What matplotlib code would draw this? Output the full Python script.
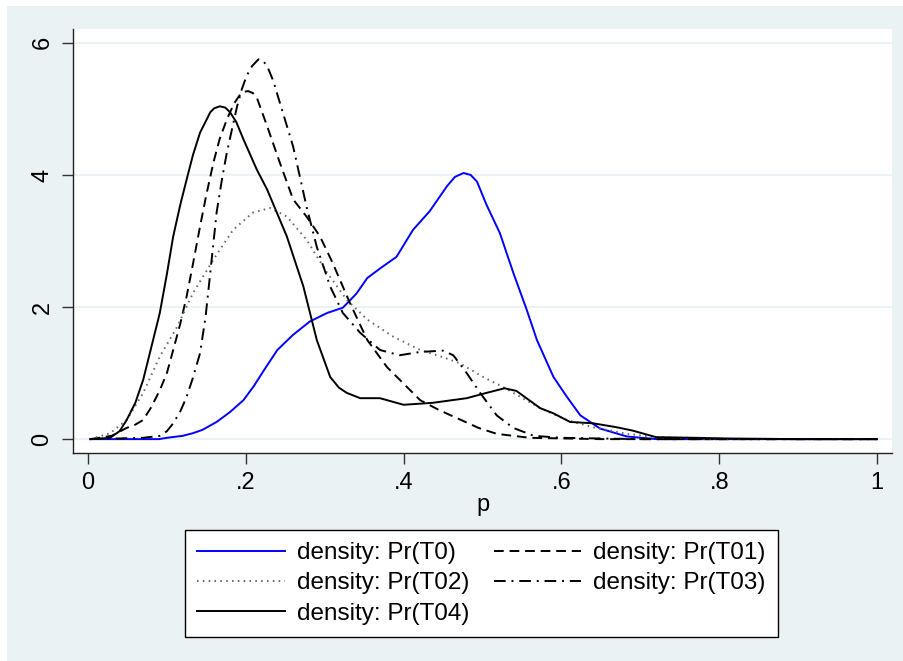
import matplotlib
matplotlib.use('Agg')
import matplotlib.pyplot as plt
from matplotlib.patches import Rectangle

plt.rcParams['font.family'] = ['Liberation Sans', 'DejaVu Sans']

# density estimates (p, density)
t0_x = [0.003, 0.09, 0.1, 0.12, 0.133, 0.145, 0.163, 0.18, 0.197, 0.21, 0.225, 0.24, 0.26,
        0.281, 0.303, 0.323, 0.34, 0.354, 0.372, 0.391, 0.412, 0.433, 0.455, 0.465, 0.476,
        0.485, 0.493, 0.505, 0.522, 0.539, 0.556, 0.569, 0.59, 0.607, 0.624, 0.649, 0.683,
        0.721, 0.8, 0.9, 1.0]
t0_y = [0.0, 0.0, 0.02, 0.05, 0.09, 0.14, 0.26, 0.41, 0.59, 0.8, 1.08, 1.35, 1.58,
        1.78, 1.91, 1.99, 2.2, 2.44, 2.6, 2.76, 3.17, 3.45, 3.83, 3.97, 4.03,
        4.0, 3.9, 3.55, 3.12, 2.52, 1.96, 1.5, 0.94, 0.64, 0.36, 0.16, 0.04,
        0.0, 0.0, 0.0, 0.0]

t01_x = [0.003, 0.03, 0.049, 0.06, 0.07, 0.08, 0.091, 0.1, 0.108, 0.117, 0.125, 0.133,
         0.142, 0.15, 0.159, 0.167, 0.176, 0.185, 0.193, 0.198, 0.203, 0.209, 0.214,
         0.227, 0.243, 0.26, 0.277, 0.294, 0.31, 0.332, 0.354, 0.379, 0.395, 0.421, 0.445,
         0.471, 0.495, 0.518, 0.56, 0.65, 0.8, 1.0]
t01_y = [0.0, 0.05, 0.17, 0.22, 0.29, 0.48, 0.74, 1.0, 1.35, 1.75, 2.16, 2.65,
         3.22, 3.7, 4.19, 4.55, 4.84, 5.08, 5.22, 5.26, 5.27, 5.24, 5.17,
         4.74, 4.19, 3.63, 3.37, 3.07, 2.67, 2.06, 1.5, 1.09, 0.9, 0.59, 0.44,
         0.3, 0.17, 0.08, 0.02, 0.0, 0.0, 0.0]

t02_x = [0.003, 0.028, 0.049, 0.07, 0.091, 0.113, 0.133, 0.159, 0.184, 0.209, 0.231, 0.252,
         0.277, 0.303, 0.328, 0.354, 0.387, 0.421, 0.45, 0.471, 0.501, 0.526, 0.548, 0.573,
         0.607, 0.64, 0.683, 0.72, 0.8, 1.0]
t02_y = [0.0, 0.09, 0.29, 0.7, 1.25, 1.7, 2.21, 2.72, 3.17, 3.43, 3.5, 3.37,
         3.02, 2.52, 2.11, 1.81, 1.55, 1.35, 1.24, 1.15, 0.94, 0.79, 0.64, 0.47,
         0.29, 0.18, 0.08, 0.03, 0.0, 0.0]

t03_x = [0.003, 0.07, 0.091, 0.1, 0.108, 0.117, 0.125, 0.133, 0.142, 0.149, 0.155, 0.163,
         0.17, 0.176, 0.183, 0.189, 0.195, 0.201, 0.208, 0.216, 0.221, 0.227, 0.235, 0.243,
         0.26, 0.277, 0.29, 0.307, 0.323, 0.345, 0.37, 0.395, 0.421, 0.45, 0.463, 0.48,
         0.497, 0.518, 0.539, 0.565, 0.6, 0.7, 1.0]
t03_y = [0.0, 0.02, 0.05, 0.12, 0.24, 0.42, 0.64, 0.93, 1.3, 1.85, 2.52, 3.43,
         3.95, 4.34, 4.72, 5.04, 5.3, 5.5, 5.65, 5.75, 5.74, 5.65, 5.42, 5.1,
         4.43, 3.52, 2.91, 2.31, 1.91, 1.61, 1.35, 1.27, 1.32, 1.34, 1.27, 1.0,
         0.7, 0.36, 0.17, 0.05, 0.02, 0.0, 0.0]

t04_x = [0.003, 0.028, 0.04, 0.049, 0.06, 0.07, 0.08, 0.091, 0.1, 0.108, 0.117, 0.125,
         0.133, 0.142, 0.15, 0.155, 0.16, 0.167, 0.174, 0.18, 0.188, 0.197, 0.214, 0.227,
         0.252, 0.273, 0.29, 0.307, 0.318, 0.328, 0.345, 0.37, 0.4, 0.437, 0.48, 0.505,
         0.528, 0.543, 0.573, 0.59, 0.611, 0.64, 0.67, 0.69, 0.72, 0.77, 0.81, 0.9, 1.0]
t04_y = [0.0, 0.02, 0.12, 0.29, 0.55, 0.9, 1.38, 1.91, 2.5, 3.07, 3.55, 3.93,
         4.3, 4.64, 4.83, 4.95, 5.01, 5.04, 5.02, 4.95, 4.8, 4.54, 4.08, 3.78,
         3.07, 2.31, 1.5, 0.94, 0.78, 0.7, 0.62, 0.62, 0.52, 0.55, 0.62, 0.7,
         0.77, 0.73, 0.47, 0.39, 0.26, 0.24, 0.18, 0.13, 0.03, 0.02, 0.01, 0.0, 0.0]

labels = ['density: Pr(T0)', 'density: Pr(T01)', 'density: Pr(T02)',
          'density: Pr(T03)', 'density: Pr(T04)']
x_ticks = [0, 0.2, 0.4, 0.6, 0.8, 1.0]
x_ticklabels = ['0', '.2', '.4', '.6', '.8', '1']
y_ticks = [0, 2, 4, 6]

bg = '#EAF2F3'

fig = plt.figure(figsize=(9.04, 6.61), dpi=100, facecolor='white')
fig.patches.append(Rectangle((7 / 904, 0), 1, 655 / 661, transform=fig.transFigure,
                             facecolor=bg, edgecolor='none', zorder=-10))
ax = fig.add_axes([73 / 904, 208 / 661, 819 / 904, 424 / 661])
ax.set_facecolor('white')

lw = 1.4
style = dict(lw=lw, solid_joinstyle='round', dash_joinstyle='round')
l0, = ax.plot(t0_x, t0_y, color='#0000FF', **style)
l1, = ax.plot(t01_x, t01_y, color='black', ls=(0, (5, 3)), **style)
l2, = ax.plot(t02_x, t02_y, color='#666666', ls=(0, (0.8, 2.2)), **style)
l3, = ax.plot(t03_x, t03_y, color='black', ls=(0, (6, 3, 1, 3)), **style)
l4, = ax.plot(t04_x, t04_y, color='black', **style)

ax.set_xlim(-0.019, 1.019)
ax.set_ylim(-0.21, 6.21)
ax.set_xticks(x_ticks)
ax.set_xticklabels(x_ticklabels)
ax.set_yticks(y_ticks)
ax.set_yticklabels([str(v) for v in y_ticks], rotation=90, va='center')
ax.tick_params(axis='both', labelsize=17, length=8, width=1, direction='out',
               color='#333333', pad=6)
for g in y_ticks:
    ax.axhline(g, color=bg, lw=1.5, zorder=0)
for s in ['top', 'right']:
    ax.spines[s].set_visible(False)
for s in ['left', 'bottom']:
    ax.spines[s].set_color('#222222')
    ax.spines[s].set_linewidth(1)
ax.set_xlabel('p', fontsize=17, labelpad=0)

leg = fig.legend([l0, l2, l4, l1, l3],
                 [labels[0], labels[2], labels[4], labels[1], labels[3]],
                 ncol=2, loc='upper center', bbox_to_anchor=(481.5 / 904, 131 / 661),
                 fontsize=17.5, frameon=True, fancybox=False, framealpha=1,
                 handlelength=3.6, columnspacing=1.0, labelspacing=0.34,
                 borderpad=0.5, handletextpad=0.5, borderaxespad=0)
leg.get_frame().set_edgecolor('black')
leg.get_frame().set_linewidth(1)

fig.savefig('out.png', dpi=100, facecolor=fig.get_facecolor())
